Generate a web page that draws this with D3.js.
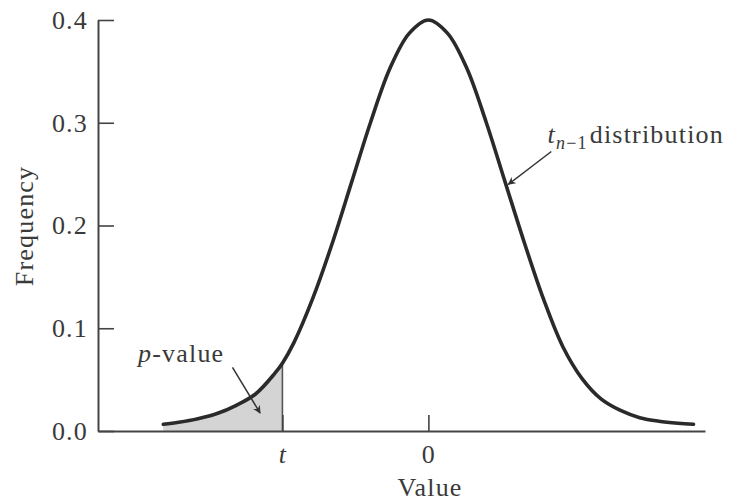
<!DOCTYPE html>
<html>
<head>
<meta charset="utf-8">
<script src="https://cdn.jsdelivr.net/npm/d3@7"></script>
<style>
  body { margin: 0; background: #fff; }
  text { font-family: "Liberation Serif", "Times New Roman", serif; fill: #3a3a3a; letter-spacing: 1.2px; }
</style>
</head>
<body>
<svg id="chart" width="738" height="501"></svg>
<script>
// curve (value, frequency)
const curveX = [-3.45, -3.25, -3.0, -2.75, -2.5, -2.25, -2.0, -1.9, -1.75, -1.5, -1.25, -1.0, -0.75, -0.5, -0.25, 0,
  0.25, 0.5, 0.75, 1.0, 1.25, 1.5, 1.75, 2.0, 2.25, 2.5, 2.75, 3.0, 3.25, 3.45];
const curveY = [0.0065, 0.0085, 0.012, 0.017, 0.025, 0.036, 0.056, 0.066, 0.086, 0.130, 0.183, 0.242, 0.301, 0.353, 0.387, 0.400,
  0.387, 0.353, 0.301, 0.242, 0.183, 0.128, 0.082, 0.051, 0.031, 0.020, 0.013, 0.0095, 0.0075, 0.0065];

const tValue = -1.9;
const tFreq = 0.066;
const xTickValues = [tValue, 0];
const xTickLabels = ["t", "0"];
const yTickValues = [0, 0.1, 0.2, 0.3, 0.4];

const svg = d3.select("#chart");

const x = d3.scaleLinear().domain([-4.3, 3.6]).range([98, 705]);
const y = d3.scaleLinear().domain([0, 0.4]).range([431, 20]);

const points = curveX.map((v, i) => ({ x: v, y: curveY[i] }));

// shaded p-value region
const area = d3.area()
  .x(d => x(d.x))
  .y0(y(0))
  .y1(d => y(d.y))
  .curve(d3.curveCatmullRom);

svg.append("path")
  .datum(points.filter(d => d.x <= tValue))
  .attr("d", area)
  .attr("fill", "#d4d4d4");

svg.append("line")
  .attr("x1", x(tValue)).attr("x2", x(tValue))
  .attr("y1", y(0)).attr("y2", y(tFreq))
  .attr("stroke", "#555")
  .attr("stroke-width", 1.6);

// axes
const yAxis = d3.axisLeft(y)
  .tickValues(yTickValues)
  .tickFormat(d3.format(".1f"))
  .tickSizeInner(-16)
  .tickSizeOuter(0)
  .tickPadding(10);

const gy = svg.append("g")
  .attr("transform", `translate(${x.range()[0]},0)`)
  .call(yAxis);

const xAxis = d3.axisBottom(x)
  .tickValues(xTickValues)
  .tickFormat((d, i) => xTickLabels[i])
  .tickSizeInner(-16)
  .tickSizeOuter(0)
  .tickPadding(14);

const gx = svg.append("g")
  .attr("transform", `translate(0,${y(0)})`)
  .call(xAxis);

[gx, gy].forEach(g => {
  g.select(".domain").attr("stroke", "#444").attr("stroke-width", 2);
  g.selectAll(".tick line").attr("stroke", "#444").attr("stroke-width", 1.6);
  g.selectAll(".tick text")
    .style("font-family", "'Liberation Serif', serif")
    .style("font-size", "26px")
    .attr("fill", "#3a3a3a");
});
gx.selectAll(".tick text")
  .filter((d, i) => i === 0)
  .style("font-style", "italic");

// curve
const line = d3.line()
  .x(d => x(d.x))
  .y(d => y(d.y))
  .curve(d3.curveCatmullRom);

svg.append("path")
  .datum(points)
  .attr("d", line)
  .attr("fill", "none")
  .attr("stroke", "#2a2a2a")
  .attr("stroke-width", 3.6)
  .attr("stroke-linecap", "round");

// axis titles
svg.append("text")
  .attr("x", 430)
  .attr("y", 496)
  .attr("text-anchor", "middle")
  .style("font-size", "26px")
  .text("Value");

svg.append("text")
  .attr("transform", "translate(33,226) rotate(-90)")
  .attr("text-anchor", "middle")
  .style("font-size", "26px")
  .text("Frequency");

// arrows
const defs = svg.append("defs");
defs.append("marker")
  .attr("id", "arrow")
  .attr("viewBox", "0 0 10 10")
  .attr("refX", 9).attr("refY", 5)
  .attr("markerWidth", 8).attr("markerHeight", 8)
  .attr("markerUnits", "userSpaceOnUse")
  .attr("orient", "auto")
  .append("path")
  .attr("d", "M0,0 L10,5 L0,10 L3,5 Z")
  .attr("fill", "#333");

const annotations = [
  { label: "p", x0: -2.55, y0: 0.062, x1: -2.19, y1: 0.0175 },
  { label: "t", x0: 1.6, y0: 0.272, x1: 1.04, y1: 0.240 }
];

svg.selectAll(".arrow")
  .data(annotations)
  .enter().append("line")
  .attr("class", "arrow")
  .attr("x1", d => x(d.x0)).attr("y1", d => y(d.y0))
  .attr("x2", d => x(d.x1)).attr("y2", d => y(d.y1))
  .attr("stroke", "#333")
  .attr("stroke-width", 1.5)
  .attr("marker-end", "url(#arrow)");

// p-value label
const pText = svg.append("text")
  .attr("x", x(-3.78))
  .attr("y", y(0.067))
  .style("font-size", "26px");
pText.append("tspan").style("font-style", "italic").text("p");
pText.append("tspan").text("-value");

// t_{n-1} distribution label
const tText = svg.append("text")
  .attr("x", x(1.55))
  .attr("y", y(0.280))
  .style("font-size", "26px");
tText.append("tspan").style("font-style", "italic").text("t");
tText.append("tspan")
  .attr("dy", 6)
  .style("font-size", "18px")
  .style("font-style", "italic")
  .text("n");
tText.append("tspan")
  .style("font-size", "18px")
  .text("\u22121");
tText.append("tspan")
  .attr("dy", -6)
  .attr("dx", 2)
  .text("distribution");
</script>
</body>
</html>
